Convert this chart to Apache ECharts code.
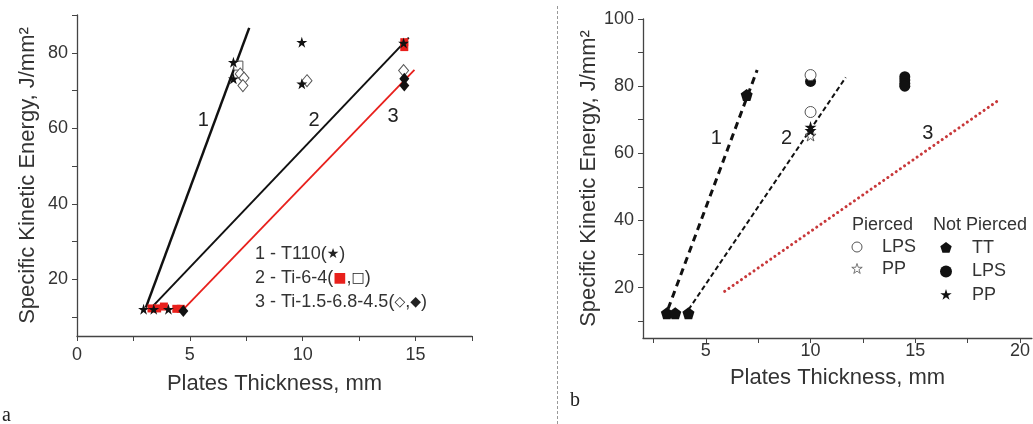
<!DOCTYPE html>
<html><head><meta charset="utf-8">
<script src="https://cdn.jsdelivr.net/npm/echarts@6/dist/echarts.min.js"></script>
<style>html,body{margin:0;padding:0;background:#fff}#c{width:1033px;height:424px}</style>
</head><body><div id="c"></div>
<script>
// ---------------- Panel a data ----------------
const aXTicks = [0, 2.5, 5, 7.5, 10, 12.5, 15, 17.5];
const aXLabels = [0, 5, 10, 15];
const aYTicks = [10, 20, 30, 40, 50, 60, 70, 80, 90];
const aYLabels = [20, 40, 60, 80];
const aT110 = [[2.95, 12.1], [3.4, 12.1], [4.05, 12.1], [6.93, 77.5], [6.93, 73.1], [9.96, 82.8], [9.96, 71.8], [14.47, 82.6]];
const aTi64Filled = [[3.3, 12.3], [3.55, 12.3], [3.85, 12.8], [4.4, 12.2], [4.6, 12.2], [14.5, 82.8], [14.5, 81.5]];
const aTi64Open = [[7.15, 76.6]];
const aTi15Open = [[7.23, 74.4], [7.4, 73.3], [7.35, 71.3], [10.19, 72.6], [14.47, 75.3]];
const aTi15Filled = [[4.71, 11.6], [14.5, 73.1], [14.5, 71.3]];
const aLine1 = [[3.05, 12.5], [7.63, 86.6]];
const aLine2 = [[3.3, 12.5], [14.7, 84]];
const aLine3 = [[4.7, 12], [14.95, 75.5]];
const aCurveNames = ['1', '2', '3'];
const aCurveAt = [[5.6, 62], [10.5, 62], [14.0, 63]];
const aLegendLines = ['1 - T110({s|★})', '2 - Ti-6-4({r|■},{s|□})', '3 - Ti-1.5-6.8-4.5({s|◇},{s|◆})'];

// ---------------- Panel b data ----------------
const bXTicks = [2.5, 5, 7.5, 10, 12.5, 15, 17.5, 20];
const bXLabels = [5, 10, 15, 20];
const bYTicks = [10, 20, 30, 40, 50, 60, 70, 80, 90, 100];
const bYLabels = [20, 40, 60, 80, 100];
const bTT = [[3.14, 12.4], [3.54, 12.4], [4.17, 12.4], [6.95, 77.4]];
const bLPSNot = [[10, 81.4], [14.5, 82.8], [14.5, 81.8], [14.5, 80.8], [14.5, 80.0]];
const bLPSPierced = [[10, 83.3], [10, 72.3]];
const bPPNot = [[10, 67.8], [10, 66.8]];
const bPPPierced = [[10, 65.3]];
const bLine1 = [[3.2, 13.7], [7.45, 84.8]];
const bLine2 = [[4.17, 13.4], [11.68, 82.6]];
const bLine3 = [[5.9, 18.9], [19.0, 75.9]];
const bCurveNames = ['1', '2', '3'];
const bCurveAt = [[5.5, 64.5], [8.85, 64.5], [15.6, 66]];

// ---------------- styling ----------------
const FONT = '"Liberation Sans", Arial, sans-serif';
const STAR = 'path://M50 0 L61.23 34.55 L97.55 34.55 L68.17 55.9 L79.39 90.45 L50 69.1 L20.61 90.45 L31.83 55.9 L2.45 34.55 L38.77 34.55 Z';
const PENTA = 'path://M50 0 L97.55 34.55 L79.39 90.45 L20.61 90.45 L2.45 34.55 Z';
const STAR_PTS = [[50, 0], [61.23, 34.55], [97.55, 34.55], [68.17, 55.9], [79.39, 90.45], [50, 69.1], [20.61, 90.45], [31.83, 55.9], [2.45, 34.55], [38.77, 34.55]];
const PENTA_PTS = [[50, 0], [97.55, 34.55], [79.39, 90.45], [20.61, 90.45], [2.45, 34.55]];
const AX = '#444', TX = '#333';

function axis(ticks, labels, min, max, name, gap, grid, labelMargin) {
  return {
    type: 'value', gridIndex: grid, min: min, max: max,
    name: name, nameLocation: 'middle', nameGap: gap,
    nameTextStyle: { fontSize: 22, color: TX, fontFamily: FONT },
    axisLine: { show: true, onZero: false, lineStyle: { color: AX, width: 1.3 } },
    axisTick: { show: true, inside: false, length: 5, customValues: ticks, lineStyle: { color: AX, width: 1 } },
    axisLabel: { customValues: labels, fontSize: 18, color: TX, fontFamily: FONT, margin: labelMargin },
    splitLine: { show: false }
  };
}
function lineSeries(data, xi, color, width, type, cap) {
  return { type: 'line', xAxisIndex: xi, yAxisIndex: xi, data: data, symbol: 'none', silent: true,
    lineStyle: { color: color, width: width, type: type, cap: cap || 'butt' }, z: 2 };
}
function scat(data, xi, symbol, size, fill, stroke) {
  return { type: 'scatter', xAxisIndex: xi, yAxisIndex: xi, data: data, symbol: symbol, symbolSize: size,
    itemStyle: { color: fill, borderColor: stroke || fill, borderWidth: stroke ? 1 : 0, opacity: 1 }, z: 3 };
}
function labels(names, at, xi) {
  return { type: 'scatter', xAxisIndex: xi, yAxisIndex: xi, symbolSize: 1, silent: true,
    itemStyle: { color: 'rgba(0,0,0,0)' },
    data: names.map((n, i) => ({ name: n, value: at[i] })),
    label: { show: true, position: 'inside', formatter: '{b}', fontSize: 20, color: '#222', opacity: 1,
      textBorderWidth: 0, fontFamily: FONT }, z: 4 };
}

const gfx = [
  { type: 'line', shape: { x1: 557.5, y1: 6, x2: 557.5, y2: 424 }, style: { stroke: '#999', lineWidth: 1, lineDash: [3, 2] } },
  { type: 'text', x: 2, y: 416, style: { text: 'a', font: '20px "Liberation Serif", serif', fill: '#222', verticalAlign: 'middle' } },
  { type: 'text', x: 570, y: 401, style: { text: 'b', font: '20px "Liberation Serif", serif', fill: '#222', verticalAlign: 'middle' } }
];
const rich = { s: { fontSize: 14, fontFamily: '"DejaVu Sans"', fill: '#222' }, r: { fontSize: 14, fontFamily: '"DejaVu Sans"', fill: '#e8201c' } };
aLegendLines.forEach((t, i) => gfx.push({ type: 'text', x: 255, y: 254 + i * 24,
  style: { text: t, fontSize: 18, fontFamily: FONT, fill: TX, verticalAlign: 'middle', rich: rich } }));
const legTxt = (t, x, y) => ({ type: 'text', x: x, y: y, style: { text: t, fontSize: 18, fontFamily: FONT, fill: TX, verticalAlign: 'middle' } });
const legPoly = (pts, cx, cy, s, fill) => ({ type: 'polygon',
  shape: { points: pts.map(p => [cx - s / 2 + p[0] * s / 100, cy - s / 2 + p[1] * s / 100]) },
  style: { fill: fill, stroke: fill === '#fff' ? '#555' : '#111', lineWidth: fill === '#fff' ? 0.8 : 0 } });
gfx.push(legTxt('Pierced', 852, 225), legTxt('Not Pierced', 933, 225),
  { type: 'circle', shape: { cx: 857, cy: 247, r: 5 }, style: { fill: '#fff', stroke: '#555', lineWidth: 1 } },
  legTxt('LPS', 882, 247),
  legPoly(STAR_PTS, 857, 269, 11, '#fff'), legTxt('PP', 882, 269),
  legPoly(PENTA_PTS, 946, 248, 12, '#111'), legTxt('TT', 972, 248),
  { type: 'circle', shape: { cx: 946, cy: 271.5, r: 6 }, style: { fill: '#111' } }, legTxt('LPS', 972, 271.5),
  legPoly(STAR_PTS, 946, 295, 12, '#111'), legTxt('PP', 972, 295));

const option = {
  animation: false,
  backgroundColor: '#fff',
  grid: [
    { left: 77, top: 15, width: 395, height: 321 },
    { left: 643, top: 19, width: 390, height: 319 }
  ],
  xAxis: [
    axis(aXTicks, aXLabels, 0, 17.5, 'Plates Thickness, mm', 37, 0, 10),
    axis(bXTicks, bXLabels, 2, 20.57, 'Plates Thickness, mm', 29, 1, 4)
  ],
  yAxis: [
    axis(aYTicks, aYLabels, 5, 90, 'Specific Kinetic Energy, J/mm²', 38, 0, 9),
    axis(bYTicks, bYLabels, 5, 100, 'Specific Kinetic Energy, J/mm²', 39, 1, 9)
  ],
  series: [
    lineSeries(aLine1, 0, '#111', 2.5, 'solid'),
    lineSeries(aLine2, 0, '#111', 2, 'solid'),
    lineSeries(aLine3, 0, '#e8201c', 1.8, 'solid'),
    scat(aTi64Open, 0, 'rect', 9, '#fff', '#555'),
    scat(aTi15Open, 0, 'diamond', [10, 12], '#fff', '#555'),
    scat(aTi64Filled, 0, 'rect', 8, '#e8201c'),
    scat(aTi15Filled, 0, 'diamond', [10, 12], '#111'),
    scat(aT110, 0, STAR, 11, '#111'),
    labels(aCurveNames, aCurveAt, 0),

    lineSeries(bLine1, 1, '#111', 3, [7, 5]),
    lineSeries(bLine2, 1, '#111', 2, [5, 3]),
    lineSeries(bLine3, 1, '#c8383a', 3, [0.1, 5], 'round'),
    scat(bTT, 1, PENTA, 12, '#111'),
    scat(bLPSNot, 1, 'circle', 11, '#111'),
    scat(bLPSPierced, 1, 'circle', 11, '#fff', '#555'),
    scat(bPPPierced, 1, STAR, 11, '#fff', '#555'),
    scat(bPPNot, 1, STAR, 12, '#111'),
    labels(bCurveNames, bCurveAt, 1)
  ],
  graphic: gfx
};
const chart = echarts.init(document.getElementById('c'), null, { renderer: 'canvas' });
chart.setOption(option);
</script></body></html>
